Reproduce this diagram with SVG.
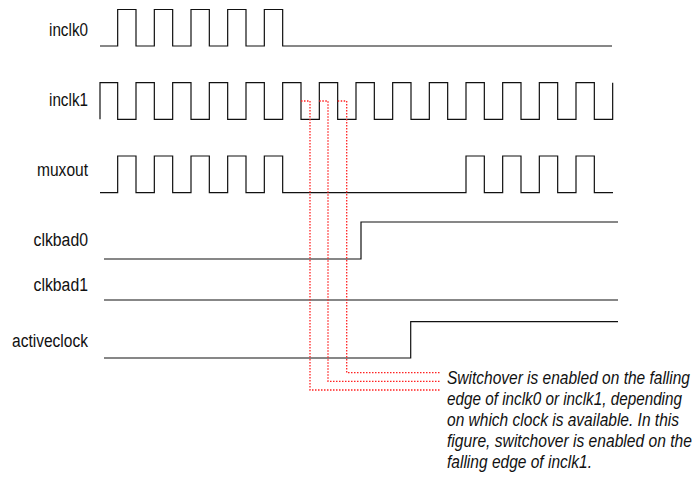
<svg xmlns="http://www.w3.org/2000/svg" width="694" height="483" viewBox="0 0 694 483">
<style>
.lbl{font-family:"Liberation Sans",Arial,sans-serif;font-size:18px;fill:#111;text-anchor:end}
.wave{fill:none;stroke:#111;stroke-width:1.2}
.note{font-family:"Liberation Sans",Arial,sans-serif;font-size:18px;font-style:italic;fill:#111}
.mark{fill:none;stroke:#f22;stroke-width:1.3;stroke-dasharray:1.5 1.5}
</style>
<rect width="694" height="483" fill="#fff"/>
<g id="inclk0">
<text class="lbl" x="88" y="36" textLength="39" lengthAdjust="spacingAndGlyphs">inclk0</text>
<path class="wave" d="M100 46 H117.67 V9.5 H136 V46 H154.33 V9.5 H172.67 V46 H191 V9.5 H209.33 V46 H227.67 V9.5 H246 V46 H264.33 V9.5 H282.67 V46 H612"/>
</g>
<g id="inclk1">
<text class="lbl" x="88" y="106" textLength="39" lengthAdjust="spacingAndGlyphs">inclk1</text>
<path class="wave" d="M100 119.3 V82.7 H117.67 V119.3 H136 V82.7 H154.33 V119.3 H172.67 V82.7 H191 V119.3 H209.33 V82.7 H227.67 V119.3 H246 V82.7 H264.33 V119.3 H282.67 V82.7 H301 V119.3 H319.33 V82.7 H337.67 V119.3 H356 V82.7 H374.33 V119.3 H392.67 V82.7 H411 V119.3 H429.33 V82.7 H447.67 V119.3 H466 V82.7 H484.33 V119.3 H502.67 V82.7 H521 V119.3 H539.33 V82.7 H557.67 V119.3 H576 V82.7 H594.33 V119.3 H612.67 V82.7"/>
</g>
<g id="muxout">
<text class="lbl" x="88" y="176" textLength="51" lengthAdjust="spacingAndGlyphs">muxout</text>
<path class="wave" d="M100 192.7 H117.67 V156 H136 V192.7 H154.33 V156 H172.67 V192.7 H191 V156 H209.33 V192.7 H227.67 V156 H246 V192.7 H264.33 V156 H282.67 V192.7 H466 V156 H484.33 V192.7 H502.67 V156 H521 V192.7 H539.33 V156 H557.67 V192.7 H576 V156 H594.33 V192.7 H613"/>
</g>
<g id="clkbad0">
<text class="lbl" x="88" y="246" textLength="54.5" lengthAdjust="spacingAndGlyphs">clkbad0</text>
<path class="wave" d="M104 259 H361 V222 H618"/>
</g>
<g id="clkbad1">
<text class="lbl" x="88" y="291" textLength="54.5" lengthAdjust="spacingAndGlyphs">clkbad1</text>
<path class="wave" d="M104 300 H618"/>
</g>
<g id="activeclock">
<text class="lbl" x="88" y="347" textLength="76" lengthAdjust="spacingAndGlyphs">activeclock</text>
<path class="wave" d="M104 358 H410.7 V321.7 H618"/>
</g>
<g id="connectors">
<path class="mark" d="M301 101 H310 V390 H440"/>
<path class="mark" d="M319.3 101 H328 V381.3 H440"/>
<path class="mark" d="M337.7 101 H346.7 V372.7 H440"/>
</g>
<g id="note">
<text class="note" x="447" y="384" textLength="243" lengthAdjust="spacingAndGlyphs">Switchover is enabled on the falling</text>
<text class="note" x="447" y="405" textLength="235" lengthAdjust="spacingAndGlyphs">edge of inclk0 or inclk1, depending</text>
<text class="note" x="447" y="426" textLength="232" lengthAdjust="spacingAndGlyphs">on which clock is available. In this</text>
<text class="note" x="447" y="447" textLength="245" lengthAdjust="spacingAndGlyphs">figure, switchover is enabled on the</text>
<text class="note" x="447" y="468" textLength="145" lengthAdjust="spacingAndGlyphs">falling edge of inclk1.</text>
</g>
</svg>
